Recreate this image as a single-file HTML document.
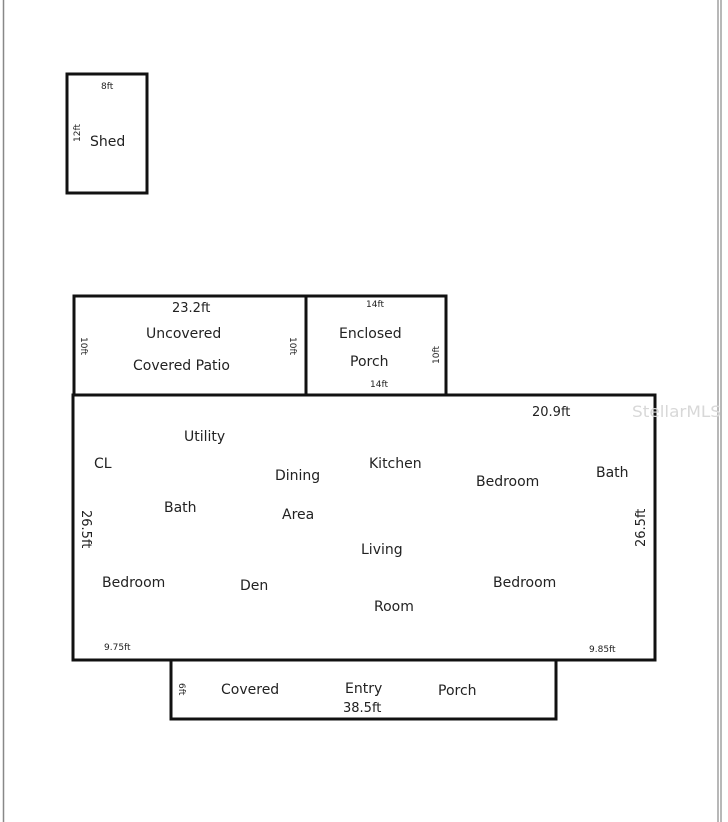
<!DOCTYPE html>
<html><head><style>
html,body{margin:0;padding:0;background:#fff}
svg{display:block}
text{font-family:"DejaVu Sans","Liberation Sans",sans-serif;fill:#222}
</style></head><body>
<svg width="728" height="822" viewBox="0 0 728 822" xmlns="http://www.w3.org/2000/svg">
<rect width="728" height="822" fill="#fff"/>
<line x1="3.5" y1="0" x2="3.5" y2="822" stroke="#888" stroke-width="1.5"/>
<line x1="718" y1="0" x2="718" y2="822" stroke="#888" stroke-width="1.2"/>
<line x1="721" y1="0" x2="721" y2="822" stroke="#888" stroke-width="1.2"/>
<g fill="none" stroke="#111" stroke-width="3">
<rect x="67" y="74" width="80" height="119"/>
<rect x="74" y="296" width="232" height="99"/>
<rect x="306" y="296" width="140" height="99"/>
<rect x="73" y="395" width="582" height="265"/>
<rect x="171" y="660" width="385" height="59"/>
</g>
<g font-size="14">
<text x="90" y="146">Shed</text>
<text x="146" y="338">Uncovered</text>
<text x="133" y="370">Covered Patio</text>
<text x="339" y="338">Enclosed</text>
<text x="350" y="366">Porch</text>
<text x="184" y="441">Utility</text>
<text x="94" y="468">CL</text>
<text x="275" y="480">Dining</text>
<text x="369" y="468">Kitchen</text>
<text x="476" y="486">Bedroom</text>
<text x="596" y="477">Bath</text>
<text x="164" y="512">Bath</text>
<text x="282" y="519">Area</text>
<text x="361" y="554">Living</text>
<text x="102" y="587">Bedroom</text>
<text x="240" y="590">Den</text>
<text x="493" y="587">Bedroom</text>
<text x="374" y="611">Room</text>
<text x="221" y="694">Covered</text>
<text x="345" y="693">Entry</text>
<text x="438" y="695">Porch</text>
</g>
<g font-size="13">
<text x="172" y="312">23.2ft</text>
<text x="532" y="416">20.9ft</text>
<text x="343" y="712">38.5ft</text>
<text transform="translate(82,510) rotate(90)">26.5ft</text>
<text transform="translate(645,547) rotate(-90)">26.5ft</text>
</g>
<g font-size="9">
<text x="101" y="89">8ft</text>
<text x="366" y="307">14ft</text>
<text x="370" y="387">14ft</text>
<text x="104" y="650">9.75ft</text>
<text x="589" y="652">9.85ft</text>
<text transform="translate(80,142) rotate(-90)">12ft</text>
<text transform="translate(81,337) rotate(90)">10ft</text>
<text transform="translate(290,337) rotate(90)">10ft</text>
<text transform="translate(439,364) rotate(-90)">10ft</text>
<text transform="translate(179,683) rotate(90)">6ft</text>
</g>
<text x="632" y="417" font-size="16" textLength="89" lengthAdjust="spacingAndGlyphs" style="fill:#d8d8d8">StellarMLS</text>
</svg>
</body></html>
